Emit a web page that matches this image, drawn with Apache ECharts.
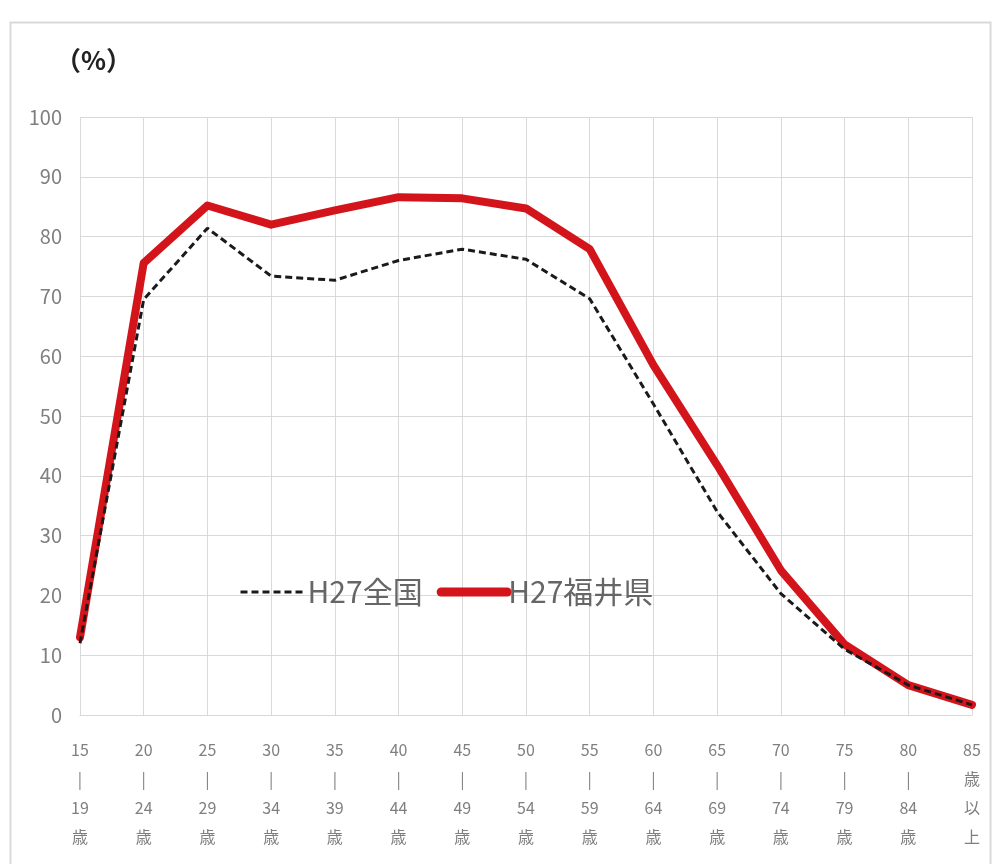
<!DOCTYPE html>
<html>
<head>
<meta charset="utf-8">
<script src="https://cdn.jsdelivr.net/npm/echarts@6/dist/echarts.min.js"></script>
<style>
html,body{margin:0;padding:0;background:#fff;}
#c{width:992px;height:864px;}
</style>
</head>
<body>
<div id="c"></div>
<script>
const categories = ['15\n|\n19\n歳','20\n|\n24\n歳','25\n|\n29\n歳','30\n|\n34\n歳','35\n|\n39\n歳','40\n|\n44\n歳','45\n|\n49\n歳','50\n|\n54\n歳','55\n|\n59\n歳','60\n|\n64\n歳','65\n|\n69\n歳','70\n|\n74\n歳','75\n|\n79\n歳','80\n|\n84\n歳','85\n歳\n以\n上'];
const national = [12.0, 69.5, 81.4, 73.4, 72.7, 76.0, 77.9, 76.2, 69.6, 52.0, 34.0, 20.3, 11.0, 5.0, 1.7];
const fukui = [13.0, 75.6, 85.2, 82.0, 84.4, 86.6, 86.4, 84.7, 77.9, 58.5, 41.8, 24.2, 11.8, 5.0, 1.7];
const seriesNames = ['H27全国', 'H27福井県'];
const yTicks = {min: 0, max: 100, interval: 10};

const font = '"Noto Sans CJK JP", "Noto Sans", sans-serif';
const natColor = '#1a1a1a';
const fukColor = '#d4141b';
const chart = echarts.init(document.getElementById('c'));
chart.setOption({
  animation: false,
  backgroundColor: '#fff',
  textStyle: {fontFamily: font},
  graphic: [{
    type: 'rect', left: 8, top: 20, shape: {width: 980, height: 850},
    style: {fill: 'none', stroke: '#d9d9d9', lineWidth: 2}, silent: true
  }],
  title: {
    text: '（%）', left: 50, top: 42,
    textStyle: {fontSize: 26, fontWeight: 'bold', color: '#222', fontFamily: font}
  },
  grid: {left: 80, right: 20, top: 117, bottom: 149},
  legend: {
    left: 234, top: 572,
    itemWidth: 66, itemHeight: 14, itemGap: 14,
    textStyle: {fontSize: 30, color: '#666', fontFamily: font, padding: [0, 0, 0, -4]},
    data: [
      {name: seriesNames[0], itemStyle: {opacity: 0}, lineStyle: {color: natColor, width: 3, type: [7, 4]}},
      {name: seriesNames[1], itemStyle: {opacity: 0}, lineStyle: {color: fukColor, width: 9, cap: 'round'}}
    ]
  },
  xAxis: {
    type: 'category', data: categories, boundaryGap: false,
    axisLine: {show: true, lineStyle: {color: '#d9d9d9'}},
    axisTick: {show: false},
    splitLine: {show: true, lineStyle: {color: '#d9d9d9', width: 1}},
    axisLabel: {color: '#7f7f7f', fontSize: 16, lineHeight: 29, margin: 20, interval: 0, fontFamily: font}
  },
  yAxis: {
    type: 'value', min: yTicks.min, max: yTicks.max, interval: yTicks.interval,
    axisLine: {show: false}, axisTick: {show: false},
    splitLine: {lineStyle: {color: '#d9d9d9', width: 1}},
    axisLabel: {color: '#7f7f7f', fontSize: 20, margin: 18, fontFamily: font}
  },
  series: [
    {
      name: seriesNames[0], type: 'line', data: national, symbol: 'none',
      lineStyle: {color: natColor, width: 3, type: [7, 4]},
      itemStyle: {color: natColor}, z: 3
    },
    {
      name: seriesNames[1], type: 'line', data: fukui, symbol: 'none',
      lineStyle: {color: fukColor, width: 8, cap: 'round', join: 'round'},
      itemStyle: {color: fukColor}, z: 2
    }
  ]
});
</script>
</body>
</html>
